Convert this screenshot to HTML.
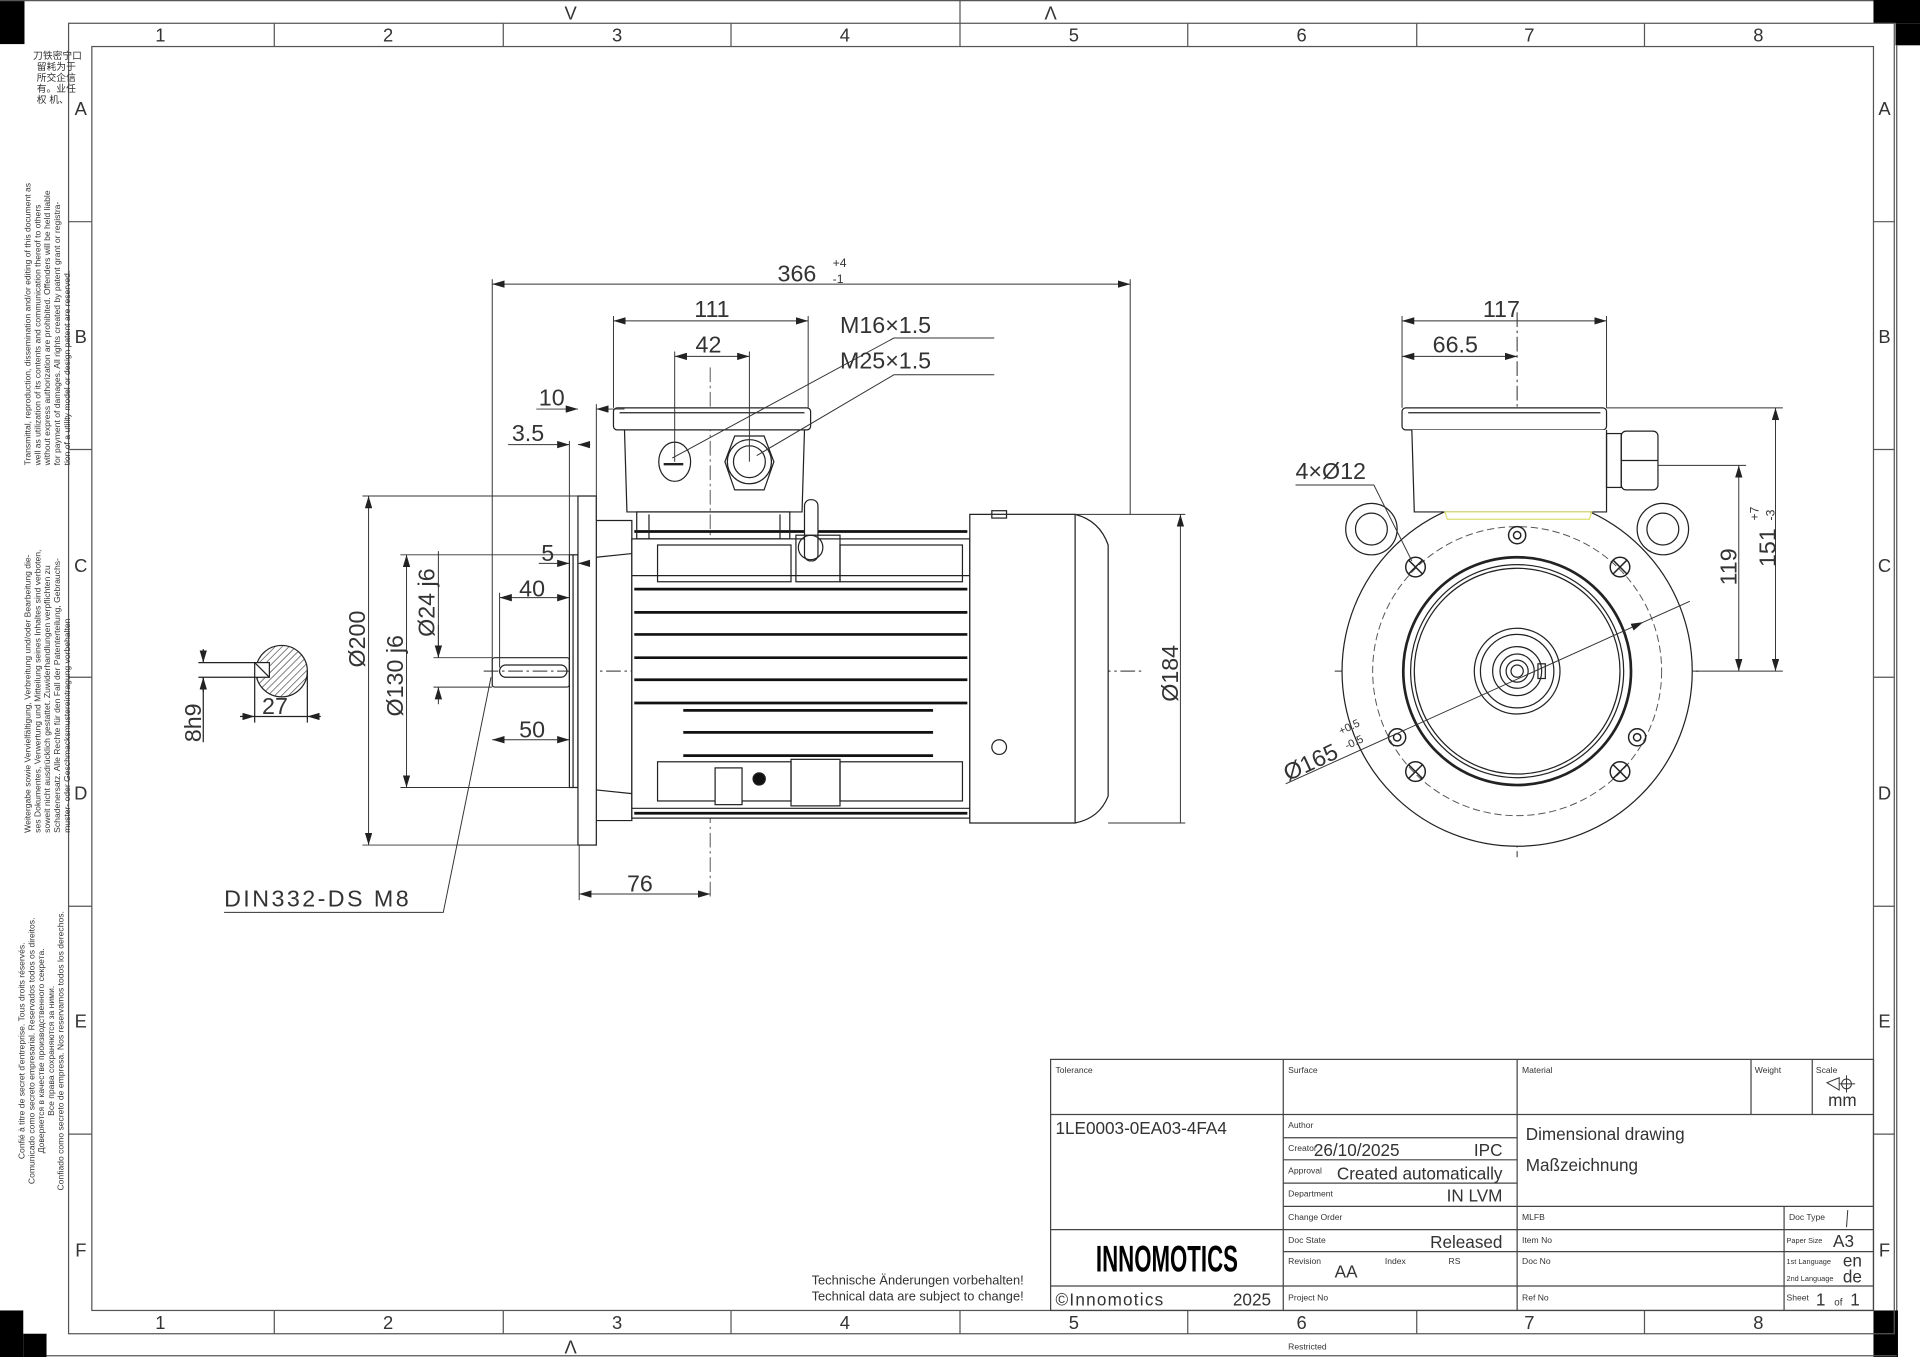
<!DOCTYPE html>
<html><head><meta charset="utf-8"><style>
html,body{margin:0;padding:0;background:#fff;}
svg{display:block;}
text{font-family:"Liberation Sans","Noto Sans CJK SC",sans-serif;fill:#333;}
.d{font-size:19px;fill:#555;}
.s{font-size:7px;fill:#333;}
.m{font-size:7px;fill:#444;}
</style></head><body>
<svg width="1920" height="1357" viewBox="0 0 1568 1108" preserveAspectRatio="none" xmlns="http://www.w3.org/2000/svg">
<defs>
<marker id="a" viewBox="0 0 10 6" refX="10" refY="3" markerWidth="10" markerHeight="6" markerUnits="userSpaceOnUse" orient="auto-start-reverse"><path d="M0,0L10,3L0,6z" fill="#222"/></marker>
<pattern id="h" width="4" height="4" patternUnits="userSpaceOnUse" patternTransform="rotate(45)"><line x1="0" y1="0" x2="0" y2="4" stroke="#333" stroke-width="1"/></pattern>
</defs>
<rect width="1568" height="1108" fill="#fff"/>
<rect x="1530" y="0" width="38" height="19" fill="#000"/>
<rect x="1548" y="19" width="20" height="18" fill="#000"/>
<rect x="0" y="1070" width="19" height="38" fill="#000"/>
<rect x="19" y="1089" width="19" height="19" fill="#000"/>
<rect x="0" y="0" width="20" height="36" fill="#000"/>
<rect x="1530" y="1070" width="20" height="38" fill="#000"/>
<g fill="none" stroke="#555" stroke-width="1">
<line x1="0" y1="0.5" x2="1530" y2="0.5"/>
<line x1="38" y1="1107" x2="1549" y2="1107"/>
<line x1="1549" y1="37" x2="1549" y2="1070"/>
<rect x="56" y="19" width="1491" height="1070"/>
<rect x="75" y="38" width="1455" height="1032"/>
<path d="M224,19V38M411,19V38M597,19V38M784,0V38M970,19V38M1157,19V38M1343,19V38"/>
<path d="M224,1070V1089M411,1070V1089M597,1070V1089M784,1070V1089M970,1070V1089M1157,1070V1089M1343,1070V1089"/>
<path d="M56,181H75M56,367H75M56,553H75M56,740H75M56,926H75"/>
<path d="M1530,181H1547M1530,367H1547M1530,553H1547M1530,740H1547M1530,926H1547"/>
</g>
<g class="d" text-anchor="middle" style="font-size:15px">
<text x="131" y="34">1</text><text x="317" y="34">2</text><text x="504" y="34">3</text><text x="690" y="34">4</text><text x="877" y="34">5</text><text x="1063" y="34">6</text><text x="1249" y="34">7</text><text x="1436" y="34">8</text>
<text x="131" y="1085">1</text><text x="317" y="1085">2</text><text x="504" y="1085">3</text><text x="690" y="1085">4</text><text x="877" y="1085">5</text><text x="1063" y="1085">6</text><text x="1249" y="1085">7</text><text x="1436" y="1085">8</text>
<text x="466" y="16">V</text><text x="858" y="16">Λ</text><text x="466" y="1105">Λ</text>
<text x="66" y="94">A</text><text x="66" y="280">B</text><text x="66" y="467">C</text><text x="66" y="653">D</text><text x="66" y="839">E</text><text x="66" y="1026">F</text>
<text x="1539" y="94">A</text><text x="1539" y="280">B</text><text x="1539" y="467">C</text><text x="1539" y="653">D</text><text x="1539" y="839">E</text><text x="1539" y="1026">F</text>
</g>
<g class="s">
<g style="font-size:8px">
<text x="27" y="48">刀铁密宁口</text><text x="30" y="57">留耗为于</text><text x="30" y="66">所交企信</text><text x="30" y="75">有。业任</text><text x="30" y="84">权  机、</text>
</g>
<g transform="translate(25,380) rotate(-90)">
<text x="0" y="0">Transmittal, reproduction, dissemination and/or editing of this document as</text>
<text x="0" y="8">well as utilization of its contents and communication thereof to others</text>
<text x="0" y="16">without express authorization are prohibited. Offenders will be held liable</text>
<text x="0" y="24">for payment of damages. All rights created by patent grant or registra-</text>
<text x="0" y="32">tion of a utility model or design patent are reserved.</text>
</g>
<g transform="translate(25,680) rotate(-90)">
<text x="0" y="0">Weitergabe sowie Vervielfältigung, Verbreitung und/oder Bearbeitung die-</text>
<text x="0" y="8">ses Dokumentes, Verwertung und Mitteilung seines Inhaltes sind verboten,</text>
<text x="0" y="16">soweit nicht ausdrücklich gestattet. Zuwiderhandlungen verpflichten zu</text>
<text x="0" y="24">Schadenersatz. Alle Rechte für den Fall der Patenterteilung, Gebrauchs-</text>
<text x="0" y="32">muster- oder Geschmacksmustereintragung vorbehalten</text>
</g>
<g transform="translate(20,858) rotate(-90)" text-anchor="middle">
<text x="0" y="0">Confié à titre de secret d'entreprise. Tous droits réservés.</text>
<text x="0" y="8">Comunicado como secreto empresarial. Reservados todos os direitos.</text>
<text x="0" y="16">Доверяется в качестве производственного секрета.</text>
<text x="0" y="24">Все права сохраняются за ними.</text>
<text x="0" y="32">Confiado como secreto de empresa. Nos reservamos todos los derechos.</text>
</g>
</g>

<g fill="none" stroke="#222" stroke-width="1">
<line x1="395" y1="548" x2="935" y2="548" stroke-dasharray="12,3,2,3" stroke="#555"/>
<line x1="580" y1="300" x2="580" y2="735" stroke-dasharray="12,3,2,3" stroke="#555" stroke-width="0.8"/>
<rect x="402" y="537" width="63" height="24" rx="2"/>
<rect x="408" y="543" width="55" height="10" rx="5"/>
<rect x="465" y="453" width="7" height="190" fill="#fff"/>
<line x1="468" y1="453" x2="468" y2="643"/>
<rect x="472" y="405" width="15" height="285" fill="#fff"/>
<path d="M487,425H516V670H487M487,455L516,452M487,645L516,648"/>
<rect x="516" y="440" width="276" height="228" fill="#fff"/>
<path d="M516,470H792M516,660H792"/>
<rect x="537" y="445" width="109" height="30"/><rect x="686" y="445" width="100" height="30"/>
<rect x="537" y="622" width="109" height="32"/><rect x="686" y="622" width="100" height="32"/>
<rect x="646" y="620" width="40" height="38"/>
</g>
<g stroke="#111" stroke-width="2.2">
<line x1="518" y1="481" x2="790" y2="481"/><line x1="518" y1="500" x2="790" y2="500"/><line x1="518" y1="518" x2="790" y2="518"/><line x1="518" y1="537" x2="790" y2="537"/><line x1="518" y1="555" x2="790" y2="555"/><line x1="518" y1="574" x2="790" y2="574"/>
<line x1="558" y1="580" x2="762" y2="580"/><line x1="558" y1="598" x2="762" y2="598"/><line x1="558" y1="617" x2="762" y2="617"/>
<line x1="518" y1="664" x2="790" y2="664"/><line x1="518" y1="434" x2="790" y2="434"/>
</g>
<g fill="none" stroke="#222" stroke-width="1">
<rect x="584" y="627" width="22" height="30" fill="#fff"/>
<circle cx="620" cy="636" r="5" fill="#111"/>
<path d="M792,420H878Q898,425 905,445V650Q898,668 878,672H792Z" fill="#fff"/>
<line x1="878" y1="420" x2="878" y2="672"/>
<rect x="810" y="417" width="12" height="6"/>
<circle cx="816" cy="610" r="6"/>
<rect x="501" y="333" width="161" height="18" rx="3" fill="#fff"/>
<line x1="506" y1="337" x2="657" y2="337"/>
<path d="M510,351L512,418H655L657,351"/>
<rect x="520" y="418" width="125" height="22"/>
<line x1="530" y1="420" x2="530" y2="440"/><line x1="637" y1="420" x2="637" y2="440"/>
<ellipse cx="551" cy="377" rx="13" ry="16"/>
<line x1="542" y1="379" x2="558" y2="379" stroke-width="2"/>
<path d="M600,356L624,356L632,377L624,400L600,400L592,377Z"/>
<circle cx="612" cy="377" r="18"/><circle cx="612" cy="377" r="13"/>
<rect x="657" y="408" width="11" height="50" rx="5" fill="#fff"/>
<rect x="650" y="437" width="36" height="38" fill="none"/>
<circle cx="662" cy="447" r="10"/>
</g>
<g fill="none" stroke="#333" stroke-width="0.8">
<line x1="402" y1="228" x2="402" y2="540"/><line x1="923" y1="228" x2="923" y2="420"/>
<line x1="402" y1="232" x2="923" y2="232" marker-start="url(#a)" marker-end="url(#a)"/>
<line x1="501" y1="258" x2="501" y2="333"/><line x1="660" y1="258" x2="660" y2="333"/>
<line x1="501" y1="262" x2="660" y2="262" marker-start="url(#a)" marker-end="url(#a)"/>
<line x1="551" y1="287" x2="551" y2="377"/><line x1="612" y1="287" x2="612" y2="377"/>
<line x1="551" y1="291" x2="612" y2="291" marker-start="url(#a)" marker-end="url(#a)"/>
<path d="M549,374L730,276H812M618,372L730,306H812"/>
<line x1="487" y1="330" x2="487" y2="425"/>
<line x1="438" y1="334" x2="472" y2="334" marker-end="url(#a)"/><line x1="510" y1="334" x2="487" y2="334" marker-end="url(#a)"/>
<line x1="415" y1="363" x2="465" y2="363" marker-end="url(#a)"/><line x1="482" y1="363" x2="472" y2="363" marker-end="url(#a)"/>
<line x1="465" y1="360" x2="465" y2="453"/>
<line x1="440" y1="460" x2="465" y2="460" marker-end="url(#a)"/><line x1="482" y1="460" x2="472" y2="460" marker-end="url(#a)"/>
<line x1="408" y1="484" x2="408" y2="545"/>
<line x1="408" y1="488" x2="465" y2="488" marker-start="url(#a)" marker-end="url(#a)"/>
<line x1="402" y1="604" x2="465" y2="604" marker-start="url(#a)" marker-end="url(#a)"/>
<line x1="473" y1="690" x2="473" y2="735"/>
<line x1="473" y1="730" x2="580" y2="730" marker-start="url(#a)" marker-end="url(#a)"/>
<line x1="296" y1="405" x2="472" y2="405"/><line x1="296" y1="690" x2="472" y2="690"/>
<line x1="301" y1="405" x2="301" y2="690" marker-start="url(#a)" marker-end="url(#a)"/>
<line x1="327" y1="453" x2="465" y2="453"/><line x1="327" y1="643" x2="465" y2="643"/>
<line x1="332" y1="453" x2="332" y2="643" marker-start="url(#a)" marker-end="url(#a)"/>
<line x1="358" y1="450" x2="358" y2="537"/><line x1="354" y1="537" x2="402" y2="537"/><line x1="354" y1="561" x2="402" y2="561"/>
<line x1="358" y1="510" x2="358" y2="537" marker-end="url(#a)"/><line x1="358" y1="575" x2="358" y2="561" marker-end="url(#a)"/>
<line x1="808" y1="420" x2="968" y2="420"/><line x1="905" y1="672" x2="968" y2="672"/>
<line x1="964" y1="420" x2="964" y2="672" marker-start="url(#a)"/>
<path d="M183,745H362L401,553"/>
</g>
<g class="d">
<text x="635" y="230">366</text><text x="680" y="218" style="font-size:10px">+4</text><text x="680" y="231" style="font-size:10px">-1</text>
<text x="567" y="259">111</text><text x="568" y="288">42</text>
<text x="686" y="272">M16×1.5</text><text x="686" y="301">M25×1.5</text>
<text x="440" y="331">10</text><text x="418" y="360">3.5</text><text x="442" y="458">5</text>
<text x="424" y="487">40</text><text x="424" y="602">50</text><text x="512" y="728">76</text>
<text transform="translate(298,545) rotate(-90)">Ø200</text>
<text transform="translate(329,585) rotate(-90)">Ø130 j6</text>
<text transform="translate(355,520) rotate(-90)">Ø24 j6</text>
<text transform="translate(962,573) rotate(-90)">Ø184</text>
<text x="183" y="740" style="letter-spacing:2px">DIN332-DS  M8</text>
</g>
<g fill="none" stroke="#222" stroke-width="1">
<circle cx="230" cy="548" r="21" fill="url(#h)"/>
<rect x="208" y="541" width="12" height="12" fill="#fff"/>
<line x1="208" y1="541" x2="220" y2="553"/>
<line x1="162" y1="541" x2="208" y2="541"/><line x1="162" y1="553" x2="208" y2="553"/>
<line x1="166" y1="530" x2="166" y2="541" marker-end="url(#a)"/><line x1="166" y1="565" x2="166" y2="553" marker-end="url(#a)"/>
<line x1="166" y1="553" x2="166" y2="606"/>
<line x1="208" y1="553" x2="208" y2="590"/><line x1="251" y1="548" x2="251" y2="590"/>
<line x1="196" y1="585" x2="208" y2="585" marker-end="url(#a)"/><line x1="262" y1="585" x2="251" y2="585" marker-end="url(#a)"/>
<line x1="208" y1="585" x2="251" y2="585"/>
</g>
<g class="d"><text x="214" y="583">27</text><text transform="translate(164,606) rotate(-90)">8h9</text></g>

<g fill="none" stroke="#222" stroke-width="1">
<line x1="1090" y1="548" x2="1390" y2="548" stroke-dasharray="12,3,2,3" stroke="#555"/>
<line x1="1239" y1="255" x2="1239" y2="700" stroke-dasharray="12,3,2,3" stroke="#555"/>
<circle cx="1120" cy="432" r="21" fill="#fff"/><circle cx="1120" cy="432" r="13"/>
<circle cx="1358" cy="432" r="21" fill="#fff"/><circle cx="1358" cy="432" r="13"/>
<circle cx="1239" cy="548" r="143" fill="#fff"/>
<circle cx="1239" cy="548" r="118" stroke-dasharray="6,3" stroke="#555" stroke-width="0.8"/>
<circle cx="1239" cy="548" r="93" stroke-width="2.2"/>
<circle cx="1239" cy="548" r="87"/><circle cx="1239" cy="548" r="84"/>
<circle cx="1239" cy="548" r="35"/><circle cx="1239" cy="548" r="30"/><circle cx="1239" cy="548" r="20"/><circle cx="1239" cy="548" r="14"/><circle cx="1239" cy="548" r="9"/><circle cx="1239" cy="548" r="5"/>
<rect x="1256" y="542" width="6" height="12"/>
<g stroke-width="1.2">
<circle cx="1156" cy="463" r="8"/><path d="M1150,457L1162,469M1162,457L1150,469"/>
<circle cx="1323" cy="463" r="8"/><path d="M1317,457L1329,469M1329,457L1317,469"/>
<circle cx="1156" cy="630" r="8"/><path d="M1150,624L1162,636M1162,624L1150,636"/>
<circle cx="1323" cy="630" r="8"/><path d="M1317,624L1329,636M1329,624L1317,636"/>
<circle cx="1239" cy="437" r="7"/><circle cx="1239" cy="437" r="3"/>
<circle cx="1141" cy="602" r="7"/><circle cx="1141" cy="602" r="3"/>
<circle cx="1337" cy="602" r="7"/><circle cx="1337" cy="602" r="3"/>
</g>
<rect x="1145" y="333" width="167" height="18" rx="3" fill="#fff"/>
<line x1="1150" y1="337" x2="1307" y2="337"/>
<path d="M1153,351L1155,418H1312V351" fill="#fff"/>
<rect x="1312" y="354" width="12" height="44"/><rect x="1324" y="352" width="30" height="48" rx="4"/>
<line x1="1324" y1="376" x2="1354" y2="376"/>
<path d="M1180,418H1300L1298,424H1182Z" stroke="#dde070"/>
</g>
<g fill="none" stroke="#333" stroke-width="0.8">
<line x1="1145" y1="258" x2="1145" y2="333"/><line x1="1312" y1="258" x2="1312" y2="333"/>
<line x1="1145" y1="262" x2="1312" y2="262" marker-start="url(#a)" marker-end="url(#a)"/>
<line x1="1145" y1="291" x2="1239" y2="291" marker-start="url(#a)" marker-end="url(#a)"/>
<line x1="1312" y1="333" x2="1456" y2="333"/><line x1="1354" y1="380" x2="1426" y2="380"/><line x1="1382" y1="548" x2="1456" y2="548"/>
<line x1="1420" y1="380" x2="1420" y2="548" marker-start="url(#a)" marker-end="url(#a)"/>
<line x1="1450" y1="333" x2="1450" y2="548" marker-start="url(#a)" marker-end="url(#a)"/>
<path d="M1058,396H1122L1153,458"/>
<line x1="1050" y1="640" x2="1342" y2="508" marker-end="url(#a)"/><line x1="1342" y1="508" x2="1380" y2="491"/>
</g>
<g class="d">
<text x="1211" y="259">117</text><text x="1170" y="288">66.5</text>
<text x="1058" y="391">4×Ø12</text>
<text transform="translate(1418,478) rotate(-90)">119</text>
<text transform="translate(1450,463) rotate(-90)">151</text>
<text transform="translate(1436,425) rotate(-90)" style="font-size:10px">+7</text>
<text transform="translate(1449,425) rotate(-90)" style="font-size:10px">-3</text>
<text transform="translate(1052,638) rotate(-25)">Ø165</text>
<text transform="translate(1095,600) rotate(-25)" style="font-size:9px">+0.5</text>
<text transform="translate(1100,612) rotate(-25)" style="font-size:9px">-0.5</text>
</g>

<g fill="none" stroke="#444" stroke-width="1">
<rect x="858" y="865" width="672" height="205"/>
<path d="M858,910H1530M1048,865V1070M1239,865V1070M1430,865V910M1480,865V910"/>
<path d="M1048,929H1239M1048,947H1239M1048,966H1239M1048,985H1530M858,1004H1530M1048,1022H1530M858,1050H1530"/>
<path d="M1457,985V1070"/>
</g>
<g class="m">
<text x="862" y="876">Tolerance</text><text x="1052" y="876">Surface</text><text x="1243" y="876">Material</text><text x="1433" y="876">Weight</text><text x="1483" y="876">Scale</text>
<text x="1052" y="921">Author</text><text x="1052" y="940">Creator</text><text x="1052" y="958">Approval</text><text x="1052" y="977">Department</text>
<text x="1052" y="996">Change Order</text><text x="1243" y="996">MLFB</text><text x="1461" y="996">Doc Type</text>
<text x="1052" y="1015">Doc State</text><text x="1243" y="1015">Item No</text><text x="1459" y="1015" style="font-size:6px">Paper Size</text>
<text x="1052" y="1032">Revision</text><text x="1131" y="1032">Index</text><text x="1183" y="1032">RS</text><text x="1243" y="1032">Doc No</text>
<text x="1459" y="1032" style="font-size:6px">1st Language</text><text x="1459" y="1046" style="font-size:6px">2nd Language</text>
<text x="1052" y="1062">Project No</text><text x="1243" y="1062">Ref No</text><text x="1459" y="1062">Sheet</text>
<text x="1052" y="1102">Restricted</text>
</g>
<g style="font-size:14px">
<text x="862" y="926">1LE0003-0EA03-4FA4</text>
<text x="1073" y="944">26/10/2025</text><text x="1227" y="944" text-anchor="end">IPC</text>
<text x="1227" y="963" text-anchor="end">Created automatically</text>
<text x="1227" y="981" text-anchor="end">IN LVM</text>
<text x="1246" y="931">Dimensional drawing</text>
<text x="1246" y="956">Maßzeichnung</text>
<text x="1227" y="1019" text-anchor="end">Released</text>
<text x="1090" y="1043">AA</text>
<text x="1497" y="1018">A3</text><text x="1505" y="1034">en</text><text x="1505" y="1047">de</text>
<text x="1483" y="1066">1</text><text x="1498" y="1066" style="font-size:8px">of</text><text x="1511" y="1066">1</text>
<text x="1493" y="903">mm</text>
<text x="862" y="1066" style="font-size:14px;letter-spacing:1px">©Innomotics</text><text x="1038" y="1066" text-anchor="end">2025</text>
</g>
<text x="895" y="1038" textLength="116" lengthAdjust="spacingAndGlyphs" style="font-size:30px;font-weight:bold;fill:#000">INNOMOTICS</text>
<g fill="none" stroke="#333" stroke-width="0.8"><path d="M1492,884L1502,880V890Z"/><circle cx="1508" cy="885" r="4"/><path d="M1502,885H1515M1508,878V892"/></g>
<line x1="1509" y1="988" x2="1508" y2="1002" stroke="#333" stroke-width="0.8"/>
<g style="font-size:10.5px" text-anchor="end">
<text x="836" y="1049">Technische Änderungen vorbehalten!</text>
<text x="836" y="1062">Technical data are subject to change!</text>
</g>
</svg>
</body></html>
